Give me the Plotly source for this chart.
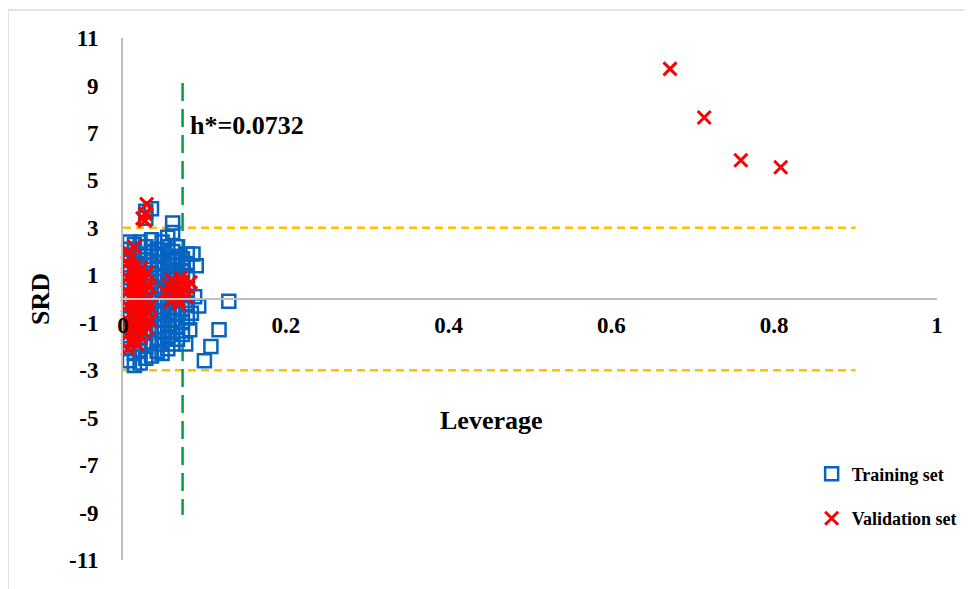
import plotly.graph_objects as go

# ---------------- data ----------------
train_lev = (
    [0.008]*13 + [0.014]*13 + [0.021]*12 + [0.028]*13 + [0.035]*12 +
    [0.042]*10 + [0.048]*11 + [0.055]*11 + [0.061]*11 + [0.067]*9 +
    [0.073]*7 + [0.079]*6 +
    [0.086, 0.090, 0.088, 0.093, 0.084, 0.077, 0.082, 0.100, 0.108, 0.118, 0.130]
)
train_srd = (
    [-2.6, -2.1, -1.7, -1.2, -0.8, -0.3, 0.1, 0.5, 0.9, 1.3, 1.7, 2.1, 2.4] +
    [-2.8, -2.3, -1.9, -1.5, -1.0, -0.6, -0.1, 0.3, 0.8, 1.2, 1.6, 2.0, 2.3] +
    [-2.7, -2.2, -1.6, -1.1, -0.7, -0.2, 0.2, 0.6, 1.1, 1.5, 1.9, 2.4] +
    [-2.5, -2.0, -1.4, -0.9, -0.4, 0.0, 0.4, 0.9, 1.4, 1.8, 2.2, 3.4, 3.7] +
    [-2.4, -1.8, -1.3, -0.8, -0.3, 0.2, 0.7, 1.1, 1.6, 2.0, 2.5, 3.8] +
    [-2.2, -1.7, -1.2, -0.6, -0.1, 0.4, 0.9, 1.3, 1.8, 2.1] +
    [-2.3, -1.9, -1.4, -0.9, -0.5, 0.0, 0.5, 1.0, 1.5, 1.9, 2.4] +
    [-2.1, -1.6, -1.1, -0.7, -0.2, 0.3, 0.8, 1.2, 1.7, 2.2, 2.6] +
    [-1.9, -1.4, -0.9, -0.4, 0.1, 0.6, 1.0, 1.6, 2.0, 2.8, 3.2] +
    [-1.7, -1.2, -0.6, -0.1, 0.4, 0.9, 1.4, 1.8, 2.2] +
    [-1.5, -1.0, -0.4, 0.2, 0.7, 1.2, 1.7] +
    [-0.8, -0.2, 0.4, 1.0, 1.5, 1.9] +
    [1.9, 1.4, 0.1, -0.3, -0.6, -1.9, -1.3, -2.6, -2.0, -1.3, -0.1]
)

val_lev = (
    [0.006]*8 + [0.010]*7 + [0.014]*7 + [0.018]*6 + [0.022]*6 + [0.026]*5 +
    [0.030]*5 + [0.033]*3 +
    [0.027, 0.027, 0.029, 0.024] +
    [0.062, 0.066, 0.070, 0.073, 0.068, 0.064, 0.075, 0.071,
     0.052, 0.056, 0.058, 0.080, 0.083, 0.078, 0.060, 0.069] +
    [0.672, 0.714, 0.759, 0.808]
)
val_srd = (
    [-2.1, -1.5, -0.9, -0.3, 0.3, 0.9, 1.5, 2.0] +
    [-1.8, -1.2, -0.6, 0.0, 0.6, 1.2, 1.8] +
    [-1.6, -1.0, -0.4, 0.2, 0.8, 1.4, 2.2] +
    [-1.9, -1.3, -0.7, -0.1, 0.5, 1.1] +
    [-1.6, -1.1, -0.5, 0.1, 0.7, 1.3] +
    [-1.4, -0.8, -0.2, 0.4, 1.0] +
    [-1.2, -0.6, 0.0, 0.6, 1.1] +
    [-0.9, -0.3, 0.5] +
    [3.3, 3.6, 4.0, 3.4] +
    [0.2, 0.5, 0.3, 0.7, 0.0, 0.6, 0.4, 0.9,
     0.3, 0.6, -0.1, 0.5, 0.7, 0.1, 0.8, -0.2] +
    [9.7, 7.65, 5.85, 5.55]
)

h_star = 0.0732
srd_limit = 3
x_ticks = [0, 0.2, 0.4, 0.6, 0.8, 1]
x_ticktext = ["0", "0.2", "0.4", "0.6", "0.8", "1"]
y_ticks = [11, 9, 7, 5, 3, 1, -1, -3, -5, -7, -9, -11]
y_ticktext = ["11", "9", "7", "5", "3", "1", "-1", "-3", "-5", "-7", "-9", "-11"]

FONT = "Liberation Serif"

fig = go.Figure()

# reference lines
fig.add_trace(go.Scatter(x=[0, 0.9], y=[srd_limit, srd_limit], mode="lines",
                         line=dict(color="#FFC000", width=2.5, dash="8px,5px"),
                         showlegend=False, hoverinfo="skip"))
fig.add_trace(go.Scatter(x=[0, 0.9], y=[-srd_limit, -srd_limit], mode="lines",
                         line=dict(color="#FFC000", width=2.5, dash="8px,5px"),
                         showlegend=False, hoverinfo="skip"))
fig.add_trace(go.Scatter(x=[h_star, h_star], y=[9.1, -9.1], mode="lines",
                         line=dict(color="#00A040", width=2.5, dash="18px,8px"),
                         showlegend=False, hoverinfo="skip"))

fig.add_trace(go.Scatter(
    x=train_lev, y=train_srd, mode="markers", name="Training set",
    legendgroup="train",
    marker=dict(symbol="square-open", size=13, color="#0563C1",
                line=dict(width=2.5, color="#0563C1")),
    cliponaxis=False,
))
fig.add_trace(go.Scatter(
    x=val_lev, y=val_srd, mode="markers", name="Validation set",
    legendgroup="val",
    marker=dict(symbol="x-thin", size=13, color="#FF0000",
                line=dict(width=3, color="#FF0000")),
    cliponaxis=False,
))

# page body has an 8px margin, so the plot area is placed 8px up/left
fig.update_layout(
    width=972, height=589,
    margin=dict(l=115, r=43, t=30, b=37, autoexpand=False),
    paper_bgcolor="white", plot_bgcolor="white",
    font=dict(family=FONT, color="black"),
    showlegend=True,
    legend=dict(x=0.846, y=0.2, xanchor="left", yanchor="top",
                font=dict(family=FONT, size=18, color="black", weight="bold"),
                traceorder="grouped", tracegroupgap=18,
                bgcolor="rgba(0,0,0,0)", itemwidth=30),
    xaxis=dict(range=[0, 1], anchor="free", position=0.5,
               showline=True, linecolor="#BFBFBF", linewidth=2,
               showgrid=False, zeroline=False,
               tickvals=x_ticks, ticktext=x_ticktext, ticks="",
               ticklabelstandoff=5,
               tickfont=dict(family=FONT, size=23, weight="bold")),
    yaxis=dict(range=[-11, 11], showline=True, linecolor="#BFBFBF", linewidth=2,
               showgrid=False, zeroline=False,
               tickvals=y_ticks, ticktext=y_ticktext, ticks="",
               ticklabelstandoff=18,
               tickfont=dict(family=FONT, size=23, weight="bold")),
    shapes=[dict(type="rect", xref="paper", yref="paper",
                 x0=(8 - 123) / 814, x1=1.1, y0=-0.1, y1=(560 - 10) / 522,
                 line=dict(color="#D9D9D9", width=1.5), layer="below")],
    annotations=[
        dict(text="h*=0.0732", x=h_star, y=7.3, xref="x", yref="y",
             xanchor="left", yanchor="middle", xshift=5, showarrow=False,
             font=dict(family=FONT, size=26, weight="bold")),
        dict(text="Leverage", x=0.453, y=-5.1, xref="x", yref="y",
             xanchor="center", yanchor="middle", showarrow=False,
             font=dict(family=FONT, size=26, weight="bold")),
        dict(text="SRD", x=(40 - 123) / 814, y=0, xref="paper", yref="y",
             textangle=-90, showarrow=False, xanchor="center", yanchor="middle",
             font=dict(family=FONT, size=26, weight="bold")),
    ],
)

fig.write_html("out.html")
